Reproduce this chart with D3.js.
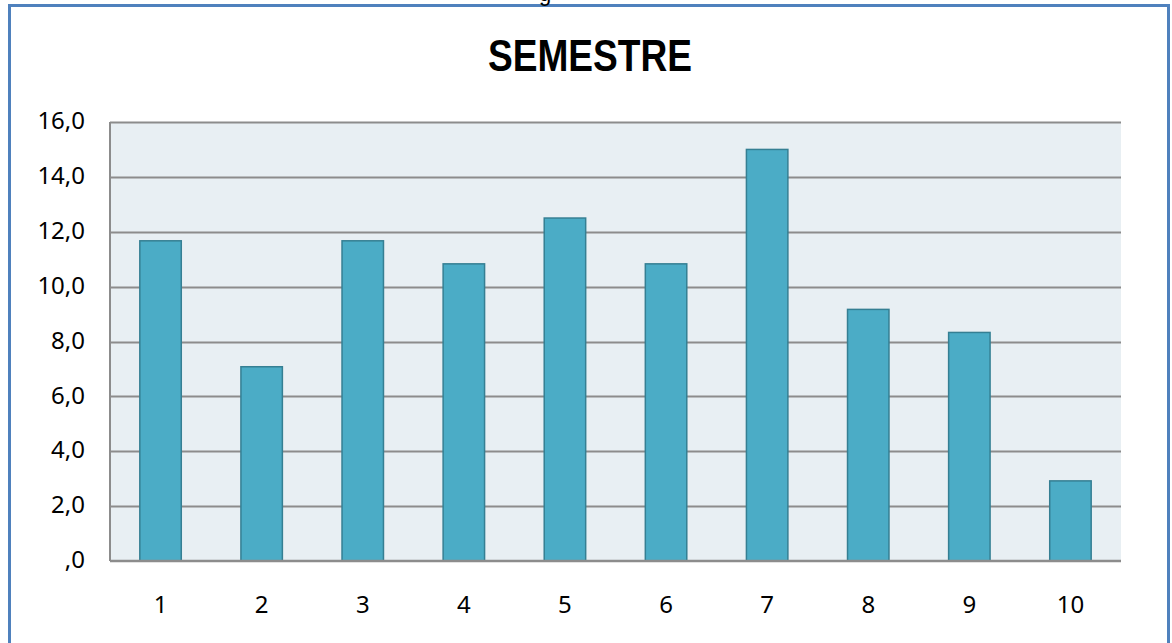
<!DOCTYPE html>
<html>
<head>
<meta charset="utf-8">
<script src="https://cdn.jsdelivr.net/npm/d3@7"></script>
<style>
  body { margin: 0; background: #fff; }
  svg { display: block; }
</style>
</head>
<body>
<div id="chart"></div>
<script>
// dados do gráfico
var categorias = ["1", "2", "3", "4", "5", "6", "7", "8", "9", "10"];
var valores = [11.67, 7.08, 11.67, 10.83, 12.5, 10.83, 15.0, 9.17, 8.33, 2.92];
var ticksY = [0, 2, 4, 6, 8, 10, 12, 14, 16];
var titulo = "SEMESTRE";

var width = 1172, height = 643;
var margin = {top: 122, right: 51, bottom: 82, left: 110};
var innerW = width - margin.left - margin.right,
    innerH = height - margin.top - margin.bottom;

var svg = d3.select("#chart").append("svg")
  .attr("width", width)
  .attr("height", height);

// moldura azul
svg.append("rect")
  .attr("x", 9.5).attr("y", 5.5)
  .attr("width", 1159).attr("height", 660)
  .attr("fill", "none")
  .attr("stroke", "#4f81bd")
  .attr("stroke-width", 3);

// resto de texto cortado no topo
svg.append("text")
  .attr("x", 539).attr("y", 0.5)
  .attr("font-family", "Liberation Sans, Arial, sans-serif")
  .attr("font-size", 22)
  .text("g");

svg.append("text")
  .attr("x", 590).attr("y", 71)
  .attr("text-anchor", "middle")
  .attr("font-family", "Liberation Sans Narrow, Arial Narrow, Liberation Sans, sans-serif")
  .attr("font-weight", "bold")
  .attr("font-size", 45)
  .attr("textLength", 204)
  .attr("lengthAdjust", "spacingAndGlyphs")
  .attr("fill", "#000")
  .text(titulo);

var g = svg.append("g").attr("transform", "translate(" + margin.left + "," + margin.top + ")");

var x = d3.scaleBand().domain(categorias).range([0, innerW]).paddingInner(0.59).paddingOuter(0.295);
var y = d3.scaleLinear().domain([0, 16]).range([innerH, 0]);

g.append("rect")
  .attr("width", innerW).attr("height", innerH)
  .attr("fill", "#e8eff3");

// linhas de grade
g.selectAll(".grid").data(ticksY.slice(1)).enter().append("line")
  .attr("x1", 0).attr("x2", innerW)
  .attr("y1", function(d) { return Math.round(y(d)) + 0.5; })
  .attr("y2", function(d) { return Math.round(y(d)) + 0.5; })
  .attr("stroke", "#8c8c8c")
  .attr("stroke-width", 2);

g.selectAll(".bar").data(valores).enter().append("rect")
  .attr("x", function(d, i) { return x(categorias[i]); })
  .attr("y", function(d) { return y(d); })
  .attr("width", x.bandwidth())
  .attr("height", function(d) { return innerH - y(d); })
  .attr("fill", "#4bacc6")
  .attr("stroke", "#357f93")
  .attr("stroke-width", 1.5);

// eixos
g.append("line")
  .attr("x1", 0).attr("x2", 0).attr("y1", 0).attr("y2", innerH)
  .attr("stroke", "#8c8c8c").attr("stroke-width", 2);
g.append("line")
  .attr("x1", 0).attr("x2", innerW).attr("y1", innerH).attr("y2", innerH)
  .attr("stroke", "#8c8c8c").attr("stroke-width", 2.5);

var fmt = function(d) { return d === 0 ? ",0" : d3.format(".1f")(d).replace(".", ","); };

var yAxis = g.append("g")
  .call(d3.axisLeft(y).tickValues(ticksY).tickFormat(fmt).tickSize(0).tickPadding(25));
yAxis.select(".domain").remove();
yAxis.selectAll("text")
  .attr("font-family", "Noto Sans, Open Sans, sans-serif")
  .attr("font-size", 24)
  .attr("dy", "0.28em")
  .attr("fill", "#000");

var xAxis = g.append("g")
  .attr("transform", "translate(0," + innerH + ")")
  .call(d3.axisBottom(x).tickSize(0).tickPadding(35));
xAxis.select(".domain").remove();
xAxis.selectAll("text")
  .attr("font-family", "Noto Sans, Open Sans, sans-serif")
  .attr("font-size", 24)
  .attr("fill", "#000");
</script>
</body>
</html>
